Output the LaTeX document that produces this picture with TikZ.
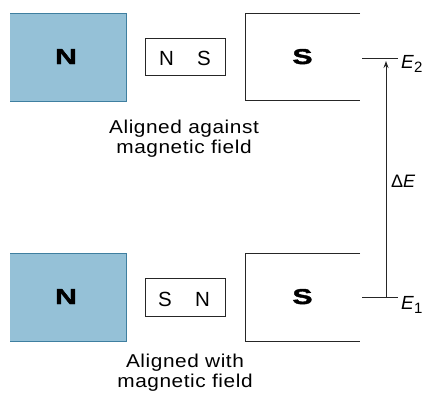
\documentclass[tikz,border=0pt]{standalone}
\usepackage{fontspec}
\setmainfont{Liberation Sans}
\newfontface\polefont[FakeStretch=1.4,FakeBold=2]{Liberation Sans Bold}
\newfontfamily\capfont[FakeStretch=1.12,LetterSpace=3]{Liberation Sans}
\usetikzlibrary{arrows.meta}
\definecolor{magfill}{HTML}{95C1D7}
\definecolor{magedge}{HTML}{3F7FA0}
\tikzset{
  caption/.style={anchor=base, font=\capfont\fontsize{18.6}{20}\selectfont, inner sep=0pt},
  pole/.style={anchor=base, font=\polefont\fontsize{21.5}{22}\selectfont, inner sep=0pt},
  small/.style={anchor=base, font=\fontsize{20.5}{22}\selectfont, inner sep=0pt},
  lvl/.style={anchor=base west, font=\fontsize{19}{20}\selectfont, inner sep=0pt},
  edge/.style={line width=1pt, draw=black!85},
}
\newcommand{\sublbl}[1]{\raisebox{-4pt}{\fontsize{15}{15}\selectfont #1}}
\begin{document}
\begin{tikzpicture}[x=1pt,y=-1pt]
\useasboundingbox (0,0) rectangle (427,392);
% ---------- top row ----------
\fill[magfill] (10,13) rectangle (126,101);
\draw[magedge, line width=1pt] (10,13) -- (126,13) -- (126,101) -- (10,101);
\node[pole] (nt) at (66,64) {N};
\draw[edge] (145,38) rectangle (225,75);
\node[small] (snt1) at (166.5,65) {N};
\node[small] (snt2) at (204,65) {S};
\draw[edge] (360,13) -- (245,13) -- (245,100) -- (360,100);
\node[pole] (st) at (302.5,64) {S};
\node[caption] (capt1) at (184,133) {Aligned against};
\node[caption] (capt2) at (184,153) {magnetic field};
% ---------- bottom row ----------
\fill[magfill] (10,253) rectangle (126,341);
\draw[magedge, line width=1pt] (10,253) -- (126,253) -- (126,341) -- (10,341);
\node[pole] (nb) at (66,304) {N};
\draw[edge] (145,278) rectangle (225,316);
\node[small] (snb1) at (165,306) {S};
\node[small] (snb2) at (202.5,306) {N};
\draw[edge] (360,253) -- (245,253) -- (245,341) -- (360,341);
\node[pole] (sb) at (302.5,304) {S};
\node[caption] (capb1) at (185,367) {Aligned with};
\node[caption] (capb2) at (185,387) {magnetic field};
% ---------- energy levels ----------
\coordinate (e2l) at (362,58);
\coordinate (e2r) at (398,58);
\coordinate (e1l) at (362,297);
\coordinate (e1r) at (398,297);
\draw[edge] (e2l) -- (e2r);
\draw[edge] (e1l) -- (e1r);
\node[lvl] (E2) at (401,68) {\textit{E}\sublbl{2}};
\node[lvl] (E1) at (401,309) {\textit{E}\sublbl{1}};
\coordinate (abot) at (386,297);
\coordinate (atop) at (386,61);
\draw[edge, -{Stealth[length=7pt,width=5pt]}] (abot) -- (atop);
\node[lvl, font=\fontsize{18}{20}\selectfont] (dE) at (391,187) {Δ\textit{E}};
\end{tikzpicture}
\end{document}
